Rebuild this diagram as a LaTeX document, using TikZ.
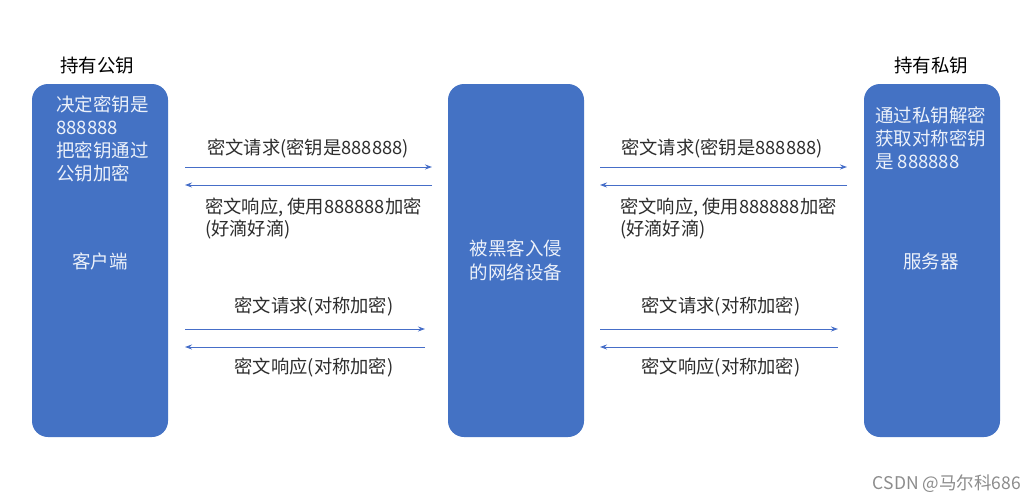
\documentclass[tikz,border=0pt]{standalone}
\usepackage{fontspec}
\setmainfont{Noto Sans CJK SC}
\usetikzlibrary{arrows.meta}
\definecolor{boxblue}{RGB}{68,114,196}
\definecolor{boxtext}{RGB}{236,241,250}
\definecolor{labeltext}{RGB}{45,45,45}
\definecolor{arrowblue}{RGB}{70,110,200}
\tikzset{
  bigbox/.style={fill=boxblue, draw=none, rounded corners=16pt, minimum width=136pt, minimum height=353pt, inner sep=0pt},
  boxlines/.style={text=boxtext, font=\fontsize{18.5}{23}\selectfont, align=left, inner sep=0pt},
  boxcenter/.style={text=boxtext, font=\fontsize{18.5}{24}\selectfont, align=center, inner sep=0pt},
  toplabel/.style={text=black, font=\fontsize{18.5}{22}\selectfont, inner sep=0pt},
  msg/.style={text=labeltext, font=\fontsize{18.3}{22}\selectfont, inner sep=0pt, align=left},
  flow/.style={draw=arrowblue, line width=0.9pt, -{Stealth[length=7pt,width=5pt]}},
}
\begin{document}
\begin{tikzpicture}[x=1pt,y=-1pt]
\useasboundingbox (0,0) rectangle (1036,503);
\fill[white] (0,0) rectangle (1036,503);

% boxes
\node[bigbox] (client) at (100,260.5) {};
\node[bigbox] (mid) at (516,260.5) {};
\node[bigbox] (server) at (932,260.5) {};

% top labels
\node[toplabel] (pubk) at (97,66) {持有公钥};
\node[toplabel] (privk) at (931,66) {持有私钥};

% box texts
\node[boxlines, anchor=north west] (ctext) at (56,96) {决定密钥是\\888888\\把密钥通过\\公钥加密};
\node[boxcenter] (cname) at (100,261) {客户端};
\node[boxcenter] (mname) at (516,260) {被黑客入侵\\的网络设备};
\node[boxlines, anchor=north west] (stext) at (875,107) {通过私钥解密\\获取对称密钥\\是 888888};
\node[boxcenter] (sname) at (931,261) {服务器};

% arrow endpoints
\coordinate (a1s) at (185,167); \coordinate (a1e) at (432,167);
\coordinate (a2s) at (432,185); \coordinate (a2e) at (185,185);
\coordinate (a3s) at (600,167); \coordinate (a3e) at (847,167);
\coordinate (a4s) at (847,185); \coordinate (a4e) at (600,185);
\coordinate (b1s) at (185,329); \coordinate (b1e) at (425,329);
\coordinate (b2s) at (425,347); \coordinate (b2e) at (185,347);
\coordinate (b3s) at (600,329); \coordinate (b3e) at (838,329);
\coordinate (b4s) at (838,347); \coordinate (b4e) at (600,347);

\draw[flow] (a1s) -- (a1e);
\draw[flow] (a2s) -- (a2e);
\draw[flow] (a3s) -- (a3e);
\draw[flow] (a4s) -- (a4e);
\draw[flow] (b1s) -- (b1e);
\draw[flow] (b2s) -- (b2e);
\draw[flow] (b3s) -- (b3e);
\draw[flow] (b4s) -- (b4e);

% message labels
\node[msg] (l1) at (308,149) {密文请求(密钥是888888)};
\node[msg, anchor=north west] (l2) at (205,198) {密文响应, 使用888888加密\\(好滴好滴)};
\node[msg] (l3) at (722,149) {密文请求(密钥是888888)};
\node[msg, anchor=north west] (l4) at (620,198) {密文响应, 使用888888加密\\(好滴好滴)};
\node[msg] (l5) at (314,307) {密文请求(对称加密)};
\node[msg] (l6) at (314,368) {密文响应(对称加密)};
\node[msg] (l7) at (721,307) {密文请求(对称加密)};
\node[msg] (l8) at (721,368) {密文响应(对称加密)};

% watermark
\node[text=black!45, font=\fontsize{17.5}{19}\selectfont, anchor=east, inner sep=0pt] (wm) at (1021,484) {CSDN @马尔科686};
\end{tikzpicture}
\end{document}
